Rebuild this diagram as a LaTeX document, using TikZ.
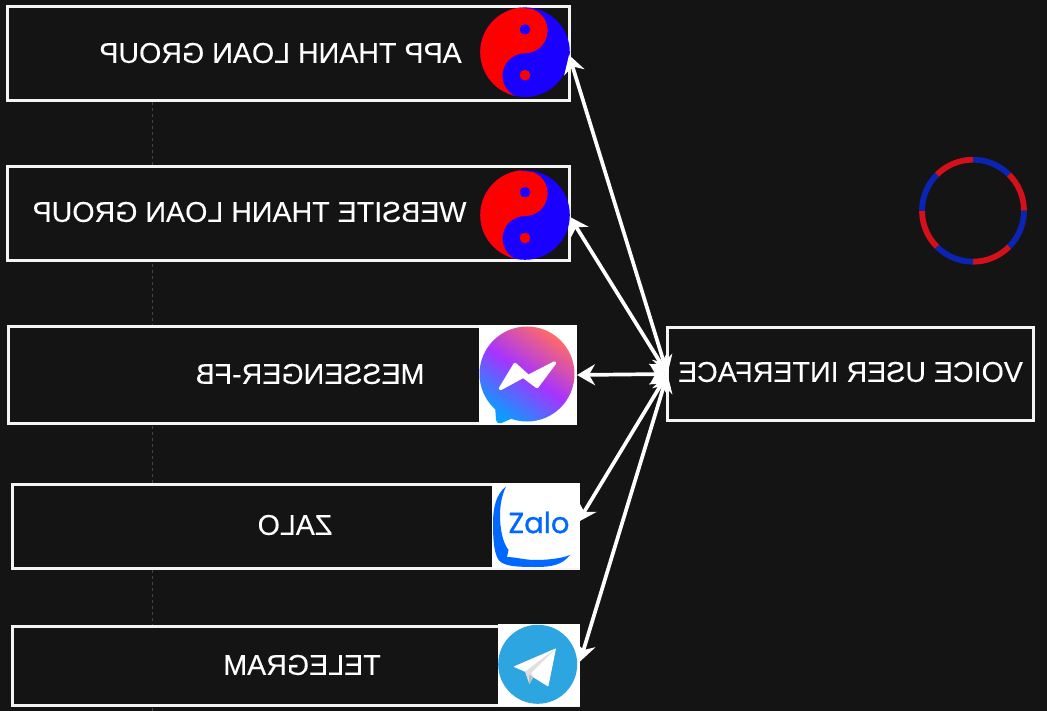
\documentclass[tikz,border=0pt]{standalone}
\usepackage{fontspec}
\setmainfont{Liberation Sans}
\newfontfamily\labelfont[FakeBold=0.15]{Liberation Sans}
\newfontfamily\zalofont[FakeBold=1.0]{Poppins}
\usetikzlibrary{arrows.meta}
\definecolor{bgdark}{HTML}{141414}
\definecolor{boxline}{HTML}{F4F4F4}
\definecolor{yred}{HTML}{FF0000}
\definecolor{yblue}{HTML}{1A00FF}
\definecolor{ringred}{HTML}{D4101A}
\definecolor{ringblue}{HTML}{0A24B4}
\definecolor{zaloblue}{HTML}{0068FF}
\definecolor{tgblue}{HTML}{2CA5E0}
\definecolor{msgpink}{HTML}{FF6A68}
\definecolor{msgviolet}{HTML}{A534FF}
\definecolor{msgsky}{HTML}{0A9CFF}
\tikzset{
  boxnode/.style={draw=boxline,line width=3pt,fill=bgdark,inner sep=0pt,outer sep=0pt,anchor=north west},
  labeltext/.style={text=white,font=\labelfont\fontsize{28.6}{32}\selectfont,inner sep=0pt,xscale=-1},
  link/.style={draw=white,line width=3.7pt,{Stealth[length=18pt,width=21pt,inset=6pt]}-{Stealth[length=18pt,width=21pt,inset=6pt]}},
  imgwhite/.style={fill=white,draw=none},
  ringseg/.style={line width=5.8pt}
}
\newcommand\yinyangmark[1]{%
  \begin{scope}[shift={(525,#1)}]
    \fill[yblue] (0,0) circle (44.8);
    \begin{scope}
      \clip (0,0) circle (44.8);
      \fill[yred] (7.7,43) arc[start angle=70,end angle=-90,radius=22.7]
        arc[start angle=90,end angle=255,radius=22.5]
        -- (-10,-50) -- (-50,-50) -- (-50,50) -- cycle;
    \end{scope}
    \fill[yblue] (0,22.8) circle (5.3);
    \fill[yred] (0,-23) circle (5.3);
  \end{scope}}
\begin{document}
\begin{tikzpicture}[x=1pt,y=1pt]
\useasboundingbox (0,0) rectangle (1047,-711);
\fill[bgdark] (0,0) rectangle (1047,-711);
% guide line behind the boxes
\coordinate (guidetop) at (152.5,-90);
\coordinate (guidebottom) at (152.5,-711);
\draw[gray!55!black,line width=0.8pt,dash pattern=on 3pt off 3pt] (guidetop) -- (guidebottom);
% boxes
\node[boxnode,minimum width=562.5pt,minimum height=94pt] (appbox) at (7,-7) {};
\node[boxnode,minimum width=562.5pt,minimum height=94pt] (webbox) at (7,-167) {};
\node[boxnode,minimum width=567pt,minimum height=96.5pt] (msgbox) at (8.5,-327) {};
\node[boxnode,minimum width=566pt,minimum height=84pt] (zalobox) at (12,-484) {};
\node[boxnode,minimum width=566.5pt,minimum height=79pt] (tgbox) at (12,-626) {};
\node[boxnode,minimum width=365.5pt,minimum height=92pt] (voicebox) at (667.5,-328) {};
% labels
\node[labeltext] (applabel) at (280.5,-53) {APP THANH LOAN GROUP};
\node[labeltext] (weblabel) at (249.5,-212) {WEBSITE THANH LOAN GROUP};
\node[labeltext] (msglabel) at (310,-374) {MESSENGER-FB};
\node[labeltext] (zalolabel) at (295,-525) {ZALO};
\node[labeltext] (tglabel) at (302,-665) {TELEGRAM};
\node[labeltext] (voicelabel) at (850.5,-372) {VOICE USER INTERFACE};
% yin-yang icons
\yinyangmark{-52.2}
\yinyangmark{-215}
% messenger icon
\fill[imgwhite] (479.3,-325) rectangle (577,-425);
\shade[top color=msgpink,bottom color=msgsky,middle color=msgviolet,shading angle=-35]
  (527,-374) circle (47.5)
  (495,-405) -- (496,-420) .. controls (496.5,-423) and (499,-424) .. (501,-423.3) -- (513,-418) -- cycle;
\filldraw[fill=white,draw=white,line width=3.4pt,line join=round] (500.5,-388.5) -- (515,-364.5) -- (528.3,-376.5) -- (554.5,-363) -- (537,-386.5) -- (523.3,-376.2) -- cycle;
% zalo icon
\fill[imgwhite] (491.7,-482.7) rectangle (579.5,-568.3);
\fill[zaloblue] (506,-486.5) .. controls (496,-494) and (493,-508) .. (493,-523)
  .. controls (493,-540) and (494,-552) .. (498,-559)
  .. controls (502,-566) and (515,-567) .. (535,-567)
  .. controls (552,-567) and (562,-565) .. (570,-555)
  .. controls (560,-559) and (545,-560) .. (535,-560)
  .. controls (525,-560) and (515,-557) .. (507,-557)
  -- (508.5,-550) .. controls (503,-543) and (500,-530) .. (500,-515)
  .. controls (500,-505) and (502,-495) .. (506,-486.5) -- cycle;
\node[text=zaloblue,inner sep=0pt,font=\zalofont\fontsize{29}{30}\selectfont] (zalomark) at (539,-522.5) {Zalo};
% telegram icon
\fill[imgwhite] (497.7,-623.8) rectangle (580,-706);
\fill[tgblue] (537.7,-664.3) circle (39.5);
\fill[white,rounded corners=0.8pt] (556,-648.3) -- (513.3,-666.7) -- (525,-671.7) -- (533.3,-677.3) -- (548.3,-686.7) -- cycle;
\fill[gray!25!white] (525,-671.7) -- (529.3,-684) -- (533.3,-677.3) -- (531,-673) -- (556,-648.3) -- cycle;
\fill[gray!50!white] (529.3,-684) -- (533.3,-677.3) -- (529,-674.5) -- cycle;
% ring
\foreach \a/\c in {90/ringblue,45/ringred,0/ringblue,-45/ringred,-90/ringblue,-135/ringred,180/ringblue,135/ringred}{
  \draw[ringseg,\c] (973,-210.7) ++(\a:51) arc[start angle=\a,delta angle=-45,radius=51];
}
% connector ports
\coordinate (appport) at (569,-55);
\coordinate (webport) at (570,-217);
\coordinate (msgport) at (577,-375);
\coordinate (zaloport) at (578,-522);
\coordinate (tgport) at (580,-661.5);
\draw[link] (voicebox.west) -- (appport);
\draw[link] (voicebox.west) -- (webport);
\draw[link] (voicebox.west) -- (msgport);
\draw[link] (voicebox.west) -- (zaloport);
\draw[link] (voicebox.west) -- (tgport);
\end{tikzpicture}
\end{document}
